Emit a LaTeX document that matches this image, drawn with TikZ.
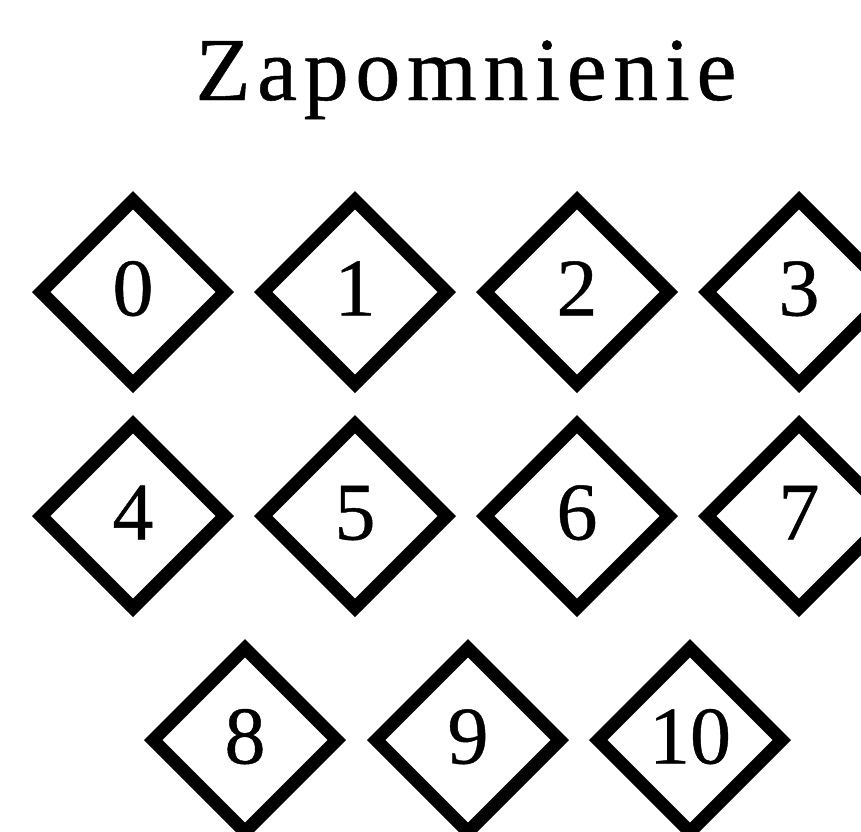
\documentclass[tikz,border=0pt]{standalone}
\usepackage{fontspec}
\setmainfont{Liberation Serif}
\newfontface\heavyserif{Liberation Serif}[FakeBold=0.5]
\usetikzlibrary{shapes.geometric}
\newcommand{\ls}{\kern6.6pt}
\tikzset{
  dia/.style={draw=black, line width=13pt, diamond, aspect=1, inner sep=0pt,
    minimum width=189pt, minimum height=189pt, miter limit=10,
    font=\heavyserif\fontsize{82}{84}\selectfont, text height=55pt, text depth=8pt},
  titletext/.style={font=\heavyserif\fontsize{90}{92}\selectfont, inner sep=0pt, anchor=base}
}
\begin{document}
\begin{tikzpicture}[x=1pt,y=-1pt]
\useasboundingbox (0,0) rectangle (861,831);
\clip (0,0) rectangle (861,831);
\fill[white] (0,0) rectangle (861,831);
\node[titletext] (title) at (466,100) {Z\ls a\ls p\ls o\ls m\ls n\ls i\ls e\ls n\ls i\ls e};
\node[dia] (d0) at (133,292) {0};
\node[dia] (d1) at (355,292) {1};
\node[dia] (d2) at (577,292) {2};
\node[dia] (d3) at (799,292) {3};
\node[dia] (d4) at (133,516) {4};
\node[dia] (d5) at (355,516) {5};
\node[dia] (d6) at (577,516) {6};
\node[dia] (d7) at (799,516) {7};
\node[dia] (d8) at (245,740) {8};
\node[dia] (d9) at (468,740) {9};
\node[dia] (d10) at (690,740) {10};
\end{tikzpicture}
\end{document}
